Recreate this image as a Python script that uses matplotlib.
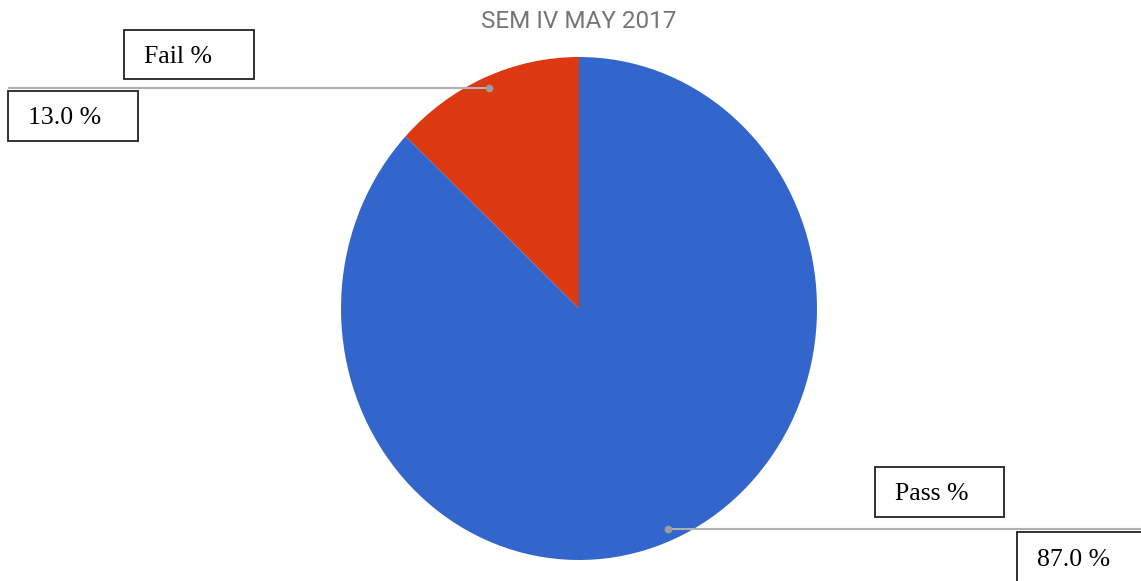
import matplotlib
matplotlib.use('Agg')
import matplotlib.pyplot as plt
from matplotlib.patches import Rectangle

# chart data
labels = ['Fail %', 'Pass %']
values = [13.0, 87.0]
colors = ['#dc3912', '#3366cc']
title = 'SEM IV MAY 2017'

W, H = 1141, 581
fig = plt.figure(figsize=(W / 100, H / 100), dpi=100)

# pie axes (the original image is slightly stretched vertically)
px0, py0, px1, py1 = 341, 57, 817, 560
ax = fig.add_axes([px0 / W, 1 - py1 / H, (px1 - px0) / W, (py1 - py0) / H])
ax.pie(values, colors=colors, startangle=90, counterclock=True, radius=1,
       wedgeprops=dict(linewidth=0))
ax.set_aspect('auto')
ax.set_xlim(-1, 1)
ax.set_ylim(-1, 1)
ax.axis('off')

# overlay in pixel coordinates for title, leaders and label boxes
ov = fig.add_axes([0, 0, 1, 1], zorder=5)
ov.set_xlim(0, W)
ov.set_ylim(H, 0)
ov.axis('off')

ov.text(579, 21, title, ha='center', va='center', fontsize=17.5,
        color='#757575', family='Roboto')

# leader lines
leaders = [((489, 88), (8, 88)), ((668, 529), (1141, 529))]
for (x0, y0), (x1, y1) in leaders:
    ov.plot([x0, x1], [y0, y1], color='#b0b0b0', lw=1.5, solid_capstyle='butt')
    ov.plot([x0], [y0], 'o', color='#9e9e9e', ms=4.5)

# label boxes: (left, top, width, height, text)
boxes = [
    (124, 30, 130, 49, labels[0]),
    (8, 91, 130, 50, '%.1f %%' % values[0]),
    (875, 467, 129, 50, labels[1]),
    (1017, 532, 130, 50, '%.1f %%' % values[1]),
]
for x, y, w, h, s in boxes:
    ov.add_patch(Rectangle((x, y), w, h, fill=True, facecolor='white',
                           edgecolor='#222222', lw=1.3, zorder=6))
    ov.text(x + 20, y + h / 2 + 2.5, s, ha='left', va='center', fontsize=18.5,
            family='Liberation Serif', color='black', zorder=7)

fig.savefig('out.png', dpi=100)
